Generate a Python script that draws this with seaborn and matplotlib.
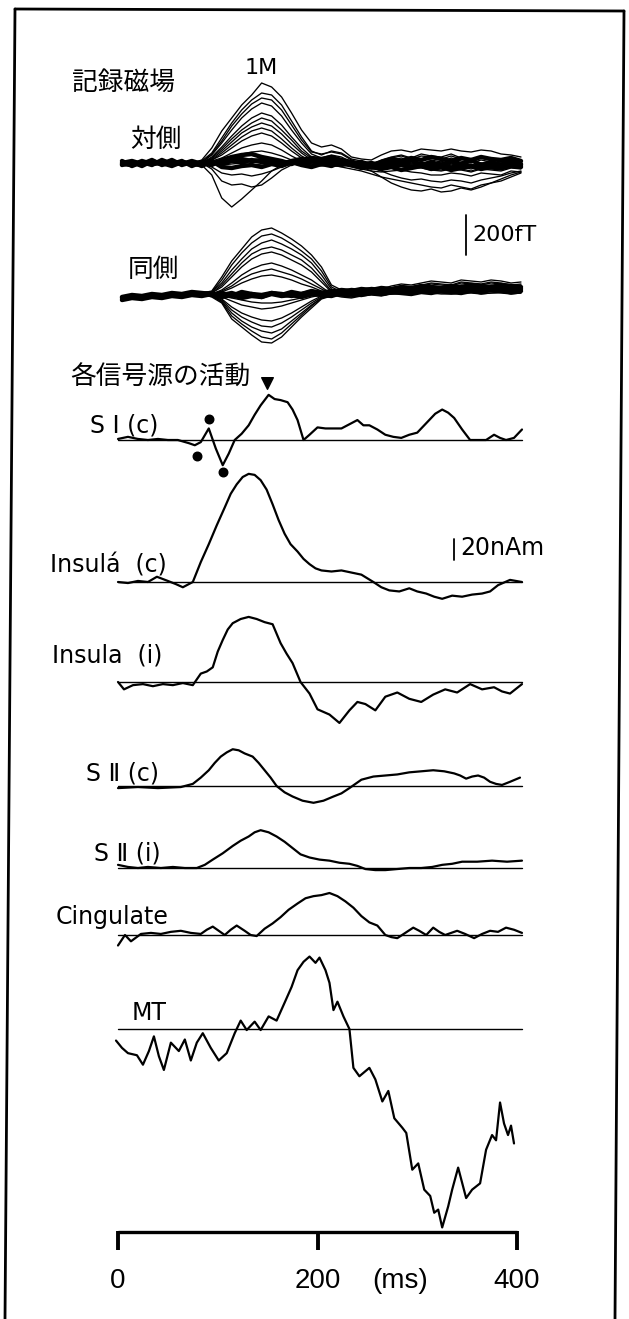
import numpy as np
import pandas as pd
import matplotlib
matplotlib.use("Agg")
import matplotlib.pyplot as plt
from matplotlib.lines import Line2D
import seaborn as sns

sns.set_theme(style="white")
plt.rcParams['font.family'] = ['DejaVu Sans', 'Noto Sans CJK JP']
plt.rcParams['text.color'] = 'black'

# ---------------- data ----------------
# MEG butterfly traces (fT), sampled every 10 ms from 0 to 400 ms
T_MEG = list(range(0, 401, 10))

# contralateral (対側) channels
CONTRA_ARCH_1 = [5,-5,10,0,5,-5,10,0,15,75,160,225,290,340,400,380,330,250,165,100,80,90,70,30,20,15,40,60,65,55,70,65,60,70,60,55,65,60,45,40,30]
CONTRA_ARCH_2 = [0,5,-5,5,0,10,-5,5,10,50,125,200,265,315,350,340,290,210,130,60,40,60,50,20,10,-10,15,30,40,25,45,35,30,45,25,15,30,20,10,20,10]
CONTRA_ARCH_3 = [5,-10,0,10,-5,0,5,-5,5,40,100,165,225,270,300,285,235,165,100,45,25,40,30,5,-5,-15,0,15,25,10,20,15,5,25,10,0,15,5,-5,10,0]
CONTRA_ARCH_4 = [-5,0,5,-5,5,-10,0,5,0,30,80,135,185,225,250,235,190,130,75,30,15,25,15,-5,-15,-20,-10,0,10,0,5,-5,-10,5,-10,-15,0,-10,-15,0,-5]
CONTRA_ARCH_5 = [0,5,-5,0,-5,5,0,-5,5,20,60,105,150,180,200,185,145,95,50,15,5,15,5,-10,-20,-25,-20,-10,0,-10,-10,-20,-25,-10,-20,-30,-15,-20,-25,-10,-15]
CONTRA_ARCH_6 = [5,0,-5,5,0,-5,5,0,-5,15,40,75,110,135,150,135,100,60,25,5,-5,5,-5,-15,-25,-30,-30,-20,-15,-25,-25,-35,-40,-30,-35,-45,-30,-35,-40,-25,-30]
CONTRA_ARCH_7 = [-5,5,0,-5,5,0,-5,5,0,10,25,50,75,90,100,90,65,35,10,-5,-10,0,-10,-20,-30,-40,-45,-40,-35,-45,-50,-60,-60,-50,-55,-65,-50,-55,-60,-40,-45]
CONTRA_ARCH_8 = [0,-5,5,0,-5,5,0,-5,5,5,15,30,45,55,60,50,35,15,0,-10,-15,-10,-20,-30,-40,-55,-70,-80,-90,-100,-110,-120,-125,-110,-120,-130,-110,-100,-90,-70,-50]
CONTRA_ARCH_9 = [0,-5,5,-5,5,0,-5,5,0,45,110,185,245,295,325,315,265,190,115,55,45,55,45,15,0,-10,10,25,35,20,35,30,20,35,20,10,25,15,5,15,5]
CONTRA_ARCH_10 = [5,0,-5,0,5,-5,5,0,-5,25,70,120,165,200,225,210,165,115,60,25,10,20,10,-10,-15,-20,-15,-5,5,-5,0,-10,-15,0,-15,-20,-5,-15,-20,-5,-10]
CONTRA_ARCH_11 = [-5,5,0,5,-5,0,5,-5,0,15,50,90,130,160,175,160,120,75,35,10,0,10,0,-15,-20,-30,-25,-15,-10,-20,-20,-30,-35,-20,-30,-40,-25,-30,-35,-20,-25]
CONTRA_NEG_1 = [0,5,-5,0,5,-5,0,5,-10,-60,-175,-220,-180,-135,-90,-40,-10,0,10,5,-5,0,5,-10,-5,0,5,-5,0,5,-5,0,5,-10,0,5,-5,0,5,0,5]
CONTRA_NEG_2 = [0,-5,5,0,-5,0,5,-5,0,-30,-90,-110,-105,-120,-110,-75,-35,-10,5,0,-5,5,0,-5,0,5,-5,0,5,-5,0,-5,5,0,-5,5,0,-5,0,5,-5]
CONTRA_NEG_3 = [0,5,0,-5,0,5,-5,0,-5,-20,-50,-60,-55,-65,-55,-40,-20,-5,0,-5,-10,-15,-10,-5,-15,-25,-40,-60,-75,-85,-80,-90,-95,-85,-90,-100,-85,-75,-65,-50,-40]
CONTRA_NEG_4 = [5,0,-5,5,-5,0,5,-5,0,-5,-10,-5,0,-10,-5,0,5,10,15,20,25,20,10,0,-20,-40,-70,-100,-120,-135,-140,-130,-145,-140,-125,-135,-120,-100,-80,-60,-45]
CONTRA_BAND_1 = [10,-15,5,-10,15,-5,10,-15,5,-10,15,30,40,45,30,20,10,-5,15,25,20,30,15,5,-10,0,-15,10,-5,15,-10,5,-15,10,-5,15,-10,5,-10,10,-5]
CONTRA_BAND_2 = [-10,5,-15,10,-5,15,-10,5,-15,10,-20,-25,-15,-10,-20,-5,-15,5,-10,-20,-5,-15,5,-10,-25,-15,-30,-20,-35,-25,-15,-30,-20,-35,-25,-15,-30,-20,-25,-15,-20]
CONTRA_BAND_3 = [0,10,-5,15,-10,5,-5,10,-5,0,5,15,20,10,15,5,-5,10,20,10,5,15,10,-5,5,-10,5,20,10,25,15,30,20,10,25,15,30,20,15,25,10]
CONTRA_BAND_4 = [-5,-10,10,-5,0,-15,5,-5,-10,5,-5,10,5,15,5,10,0,5,-5,10,5,-5,-10,0,-15,-5,-20,-5,-10,-20,-5,-15,-10,-25,-5,-15,-20,-10,-15,-5,-10]

# ipsilateral (同側) channels
IPSI_ARCH_1 = [-25,-15,-10,-5,0,5,0,5,10,20,90,170,230,290,325,335,310,280,245,200,140,50,25,20,30,35,30,45,55,50,60,70,65,60,75,70,65,75,70,60,65]
IPSI_ARCH_2 = [-20,-10,-15,0,-5,10,5,0,15,15,60,125,180,230,260,275,255,230,200,160,100,30,10,5,15,25,15,30,40,35,45,55,50,45,60,55,50,60,55,45,50]
IPSI_ARCH_3 = [-15,-10,-5,5,0,5,10,5,10,10,40,90,140,180,205,215,200,175,150,115,65,15,0,-5,5,15,5,20,30,25,35,40,35,30,45,40,35,45,40,30,35]
IPSI_ARCH_4 = [-10,-15,0,-5,5,0,5,10,5,5,25,60,100,130,150,160,145,125,100,75,40,5,-5,-10,0,5,0,10,20,15,25,30,25,20,35,30,25,35,30,20,25]
IPSI_ARCH_5 = [-15,-5,-10,0,5,-5,0,5,10,5,15,35,60,80,95,100,90,75,55,40,20,0,-10,-15,-5,0,-5,5,15,10,15,20,15,10,25,20,15,25,20,10,15]
IPSI_ARCH_6 = [-20,-15,-10,-5,5,0,5,0,10,15,75,150,210,260,295,305,285,255,220,180,120,40,15,10,20,30,20,35,45,40,50,60,55,50,65,60,55,65,60,50,55]
IPSI_ARCH_7 = [-15,-10,-10,0,0,5,5,5,10,10,50,105,160,205,230,240,225,200,175,135,80,20,5,0,10,20,10,25,35,30,40,45,40,35,50,45,40,50,45,35,40]
IPSI_ARCH_8 = [-10,-10,-5,0,0,5,0,5,5,5,20,45,80,105,120,130,115,100,80,55,30,5,-5,-10,0,5,0,10,15,10,20,25,20,15,30,25,20,30,25,15,20]
IPSI_NEG_1 = [-25,-15,-10,-5,0,5,0,5,5,-10,-40,-120,-160,-200,-235,-240,-210,-160,-110,-65,-20,-5,0,5,10,15,10,20,25,20,30,35,30,25,40,35,30,40,35,25,30]
IPSI_NEG_2 = [-20,-10,-15,-5,0,0,5,0,10,-5,-30,-90,-130,-160,-180,-190,-170,-130,-90,-50,-15,0,5,10,5,15,10,15,20,25,20,30,25,20,30,25,20,30,25,20,25]
IPSI_NEG_3 = [-15,-10,-5,0,-5,5,0,5,5,0,-20,-60,-90,-110,-125,-130,-115,-90,-60,-30,-5,5,0,5,10,5,10,15,10,15,20,15,20,15,20,15,10,20,15,10,15]
IPSI_NEG_4 = [-15,-5,-10,0,0,5,5,0,5,0,-10,-30,-50,-60,-70,-65,-55,-40,-25,-10,0,5,10,0,5,10,0,5,10,5,10,15,10,5,10,15,5,10,15,5,10]
IPSI_NEG_5 = [-20,-15,-10,-5,0,5,0,5,5,-5,-35,-105,-145,-180,-210,-220,-190,-145,-100,-55,-15,-5,0,5,10,10,10,15,20,20,25,30,25,20,35,30,25,35,30,20,25]
IPSI_NEG_6 = [-15,-10,-10,-5,0,0,5,0,5,-5,-25,-75,-110,-135,-155,-160,-140,-110,-75,-40,-10,0,5,5,5,10,10,15,15,20,20,25,20,20,25,20,15,25,20,15,20]
IPSI_NEG_7 = [-10,-5,-5,0,0,5,0,5,5,0,-5,-15,-25,-35,-40,-40,-35,-25,-15,-5,0,5,5,0,5,5,0,5,5,5,10,10,5,5,10,10,5,10,10,5,10]
IPSI_BAND_1 = [-15,-5,-10,0,-5,5,0,10,5,0,10,-5,15,5,-10,10,0,15,5,20,10,15,25,20,30,25,35,30,40,35,45,40,35,45,40,50,45,40,50,45,40]
IPSI_BAND_2 = [-25,-15,-20,-10,-15,-5,-10,0,-5,5,-10,0,-15,-5,-10,5,-5,0,-10,5,0,-5,10,5,0,10,5,15,10,5,15,10,20,15,10,20,15,25,20,15,20]
IPSI_BAND_3 = [-10,0,-5,5,0,10,5,15,10,5,0,10,-5,5,0,10,5,-5,5,15,10,20,15,25,20,30,25,20,30,25,35,30,25,35,30,40,35,30,40,35,30]

# source activities (nAm)
SI_C_T = [0,10,20,30,40,50,60,71,77,83,91,98,105,111,117,124,131,137,143,151,157,163,170,175,180,186,192,200,208,216,224,232,240,246,252,260,268,276,284,292,300,306,312,318,325,331,337,345,353,361,369,377,383,389,397,405]
SI_C_V = [1,3,1,0,1,0,0,-3,-5,-2,11,-8,-24,-13,0,6,14,24,33,43,39,38,36,29,19,0,5,12,11,11,11,15,19,14,14,10,5,3,2,5,7,13,19,25,29,26,21,10,0,0,0,5,2,0,2,10]
SI_C_DOT_T = [91, 79, 105]
SI_C_DOT_V = [20, -15, -30]
SI_C_PEAK_T = 151

INS_C_T = [0,10,20,30,39,50,58,65,75,83,91,99,107,113,119,125,131,137,143,149,155,161,167,173,180,186,192,198,204,214,224,234,244,256,264,272,282,292,300,309,317,325,335,345,355,365,373,381,393,405]
INS_C_V = [0,-1,1,0,5,1,-2,-5,0,19,36,54,71,84,93,100,103,102,97,88,74,59,46,36,29,22,17,13,11,10,11,9,7,0,-5,-8,-9,-6,-9,-11,-14,-16,-13,-14,-12,-11,-9,-3,2,0]

INS_I_T = [0,6,15,25,35,45,55,65,75,83,89,95,100,105,110,115,123,131,139,147,155,163,169,175,183,192,200,212,222,232,240,248,258,268,280,292,304,316,328,340,353,365,377,385,393,405]
INS_I_V = [0,-7,-3,-2,-4,-2,-3,-1,-3,8,10,14,29,40,50,56,60,62,60,57,55,37,27,18,0,-11,-26,-31,-39,-27,-19,-21,-27,-14,-10,-16,-19,-12,-7,-10,-2,-7,-5,-9,-11,-2]

SII_C_T = [0,20,40,63,75,83,91,97,103,109,115,121,127,135,141,147,153,159,167,175,185,196,206,216,224,232,244,256,268,280,292,304,316,327,337,343,349,355,361,367,373,379,385,393,403]
SII_C_V = [-2,-1,-2,-1,2,8,15,22,28,32,35,34,31,28,22,15,8,0,-6,-10,-14,-16,-14,-10,-7,-2,6,9,10,11,13,14,15,14,12,10,7,9,10,8,4,2,1,4,8]

SII_I_T = [0,10,20,30,43,55,67,79,87,95,105,115,123,131,137,143,151,159,167,175,183,192,202,212,222,232,240,248,258,268,280,292,304,315,325,335,345,360,375,390,405]
SII_I_V = [3,1,0,1,0,1,0,0,3,8,14,21,26,30,34,36,34,30,25,19,13,10,8,7,5,4,2,-1,-2,-2,-1,0,0,1,3,4,6,6,7,6,7]

CING_T = [0,7,13,23,33,43,53,63,73,83,89,95,101,107,113,119,127,133,139,147,155,163,171,180,188,196,204,212,220,228,236,244,252,260,268,274,280,288,296,302,309,316,322,328,334,340,348,357,365,373,381,389,397,405]
CING_V = [-10,0,-6,1,2,1,3,4,2,1,5,8,4,0,5,9,4,0,-1,6,11,17,24,30,35,37,38,40,37,32,26,18,12,9,0,-2,-3,2,7,4,0,7,3,0,2,4,1,-3,1,4,3,7,5,2]

MT_T = [-2,4,10,19,25,31,36,41,46,53,61,67,73,79,85,93,101,109,117,123,129,137,143,151,159,167,174,180,186,192,198,202,208,212,216,220,226,232,236,242,252,258,265,271,277,285,289,295,301,307,313,317,321,325,331,335,341,349,355,363,369,375,379,383,387,391,394,397]
MT_V = [-11,-18,-23,-25,-34,-21,-7,-26,-39,-13,-21,-10,-30,-13,-4,-18,-30,-23,-4,8,-1,7,-1,12,8,25,40,56,64,69,63,68,56,44,18,26,12,0,-37,-45,-37,-48,-69,-59,-85,-94,-99,-134,-128,-153,-159,-175,-172,-189,-169,-153,-132,-161,-153,-147,-115,-101,-106,-70,-90,-101,-92,-109]

SOURCE_LABELS = ["S Ⅰ (c)", "Insulá  (c)", "Insula  (i)", "S Ⅱ (c)", "S Ⅱ (i)", "Cingulate", "MT"]
X_TICKS = [0, 200, 400]
X_TICK_LABELS = ["0", "200", "400"]
X_UNIT = "(ms)"
SCALE_FT = 200
SCALE_NAM = 20

# ---------------- layout ----------------
W, H = 629, 1319
X0_PX, PX_PER_MS = 118, 0.9975
FT_TO_PX = 0.2
NAM_TO_PX = 1.05

def t_of(xpx):
    return (xpx - X0_PX) / PX_PER_MS

fig = plt.figure(figsize=(W / 100, H / 100), dpi=100)
ax = fig.add_axes([0, 0, 1, 1])
ax.set_xlim(t_of(0), t_of(W))
ax.set_ylim(H, 0)
ax.axis("off")

# frame (scanned page border, slightly skewed)
for xs, ys in [((15, 5), (9, 1319)), ((15, 624), (9, 11)), ((624, 615), (11, 1319))]:
    fig.add_artist(Line2D([x / W for x in xs], [1 - y / H for y in ys],
                          transform=fig.transFigure, color="black", lw=2.0))

def butterfly(channels, band, base, t_shift=4):
    for group, lw in ((channels, 0.95), (band, 3.2)):
        rows = []
        for i, ch in enumerate(group):
            for t, v in zip(T_MEG, ch):
                rows.append({"t": t + t_shift, "y": base - v * FT_TO_PX, "ch": i})
        df = pd.DataFrame(rows)
        sns.lineplot(data=df, x="t", y="y", units="ch", estimator=None, color="black",
                     linewidth=lw, ax=ax, legend=False, sort=False)

butterfly([CONTRA_ARCH_1, CONTRA_ARCH_2, CONTRA_ARCH_3, CONTRA_ARCH_4, CONTRA_ARCH_5,
           CONTRA_ARCH_6, CONTRA_ARCH_7, CONTRA_ARCH_8, CONTRA_ARCH_9, CONTRA_ARCH_10,
           CONTRA_ARCH_11, CONTRA_NEG_1, CONTRA_NEG_2, CONTRA_NEG_3, CONTRA_NEG_4],
          [CONTRA_BAND_1, CONTRA_BAND_2, CONTRA_BAND_3, CONTRA_BAND_4], 163)
butterfly([IPSI_ARCH_1, IPSI_ARCH_2, IPSI_ARCH_3, IPSI_ARCH_4, IPSI_ARCH_5,
           IPSI_ARCH_6, IPSI_ARCH_7, IPSI_ARCH_8,
           IPSI_NEG_1, IPSI_NEG_2, IPSI_NEG_3, IPSI_NEG_4, IPSI_NEG_5, IPSI_NEG_6, IPSI_NEG_7],
          [IPSI_BAND_1, IPSI_BAND_2, IPSI_BAND_3], 295)

sources = [(SI_C_T, SI_C_V, 440), (INS_C_T, INS_C_V, 582), (INS_I_T, INS_I_V, 682),
           (SII_C_T, SII_C_V, 786), (SII_I_T, SII_I_V, 868), (CING_T, CING_V, 935),
           (MT_T, MT_V, 1029)]
for ts, vs, base in sources:
    ax.plot([0, 405], [base, base], color="black", lw=1.0)
    df = pd.DataFrame({"t": ts, "y": [base - v * NAM_TO_PX for v in vs]})
    sns.lineplot(data=df, x="t", y="y", color="black", linewidth=1.6, ax=ax,
                 estimator=None, sort=False)

# SI(c) markers
ax.scatter(SI_C_DOT_T, [440 - v * NAM_TO_PX for v in SI_C_DOT_V],
           s=38, color="black", zorder=5)
ax.scatter([SI_C_PEAK_T - 2], [383], marker="v", s=70, color="black", zorder=5)

# labels
jp = ['Noto Sans CJK JP']
ax.text(t_of(72), 83, "記録磁場", fontsize=18.5, family=jp, va="center", ha="left")
ax.text(t_of(261), 68, "1M", fontsize=16, va="center", ha="center")
ax.text(t_of(130), 140, "対側", fontsize=18.5, family=jp, va="center", ha="left")
ax.text(t_of(128), 270, "同側", fontsize=18.5, family=jp, va="center", ha="left")
ax.text(t_of(70), 378, "各信号源の活動", fontsize=18.5, family=jp, va="center", ha="left")

# scale bars
ax.plot([t_of(466)] * 2, [255, 255 - SCALE_FT * FT_TO_PX], color="black", lw=1.3)
ax.text(t_of(472), 235, f"{SCALE_FT}fT", fontsize=16, va="center", ha="left")
ax.plot([t_of(454)] * 2, [560, 560 - SCALE_NAM * NAM_TO_PX], color="black", lw=1.3)
ax.text(t_of(460), 548, f"{SCALE_NAM}nAm", fontsize=17, va="center", ha="left")

label_pos = [(90, 425), (50, 565), (52, 655), (86, 773), (94, 853), (56, 917), (132, 1013)]
for lab, (lx, ly) in zip(SOURCE_LABELS, label_pos):
    ax.text(t_of(lx), ly, lab, fontsize=17, va="center", ha="left")

# time axis
ax.plot([X_TICKS[0], X_TICKS[-1]], [1232, 1232], color="black", lw=2.4, solid_capstyle="butt")
for tk, tl in zip(X_TICKS, X_TICK_LABELS):
    ax.plot([tk, tk], [1231, 1250], color="black", lw=2.8, solid_capstyle="butt")
    ax.text(tk, 1281, tl, family=['Liberation Sans'], fontsize=20, va="center", ha="center")
ax.text(t_of(400), 1281, X_UNIT, family=['Liberation Sans'], fontsize=20, va="center", ha="center")

fig.savefig("out.png", dpi=100)
